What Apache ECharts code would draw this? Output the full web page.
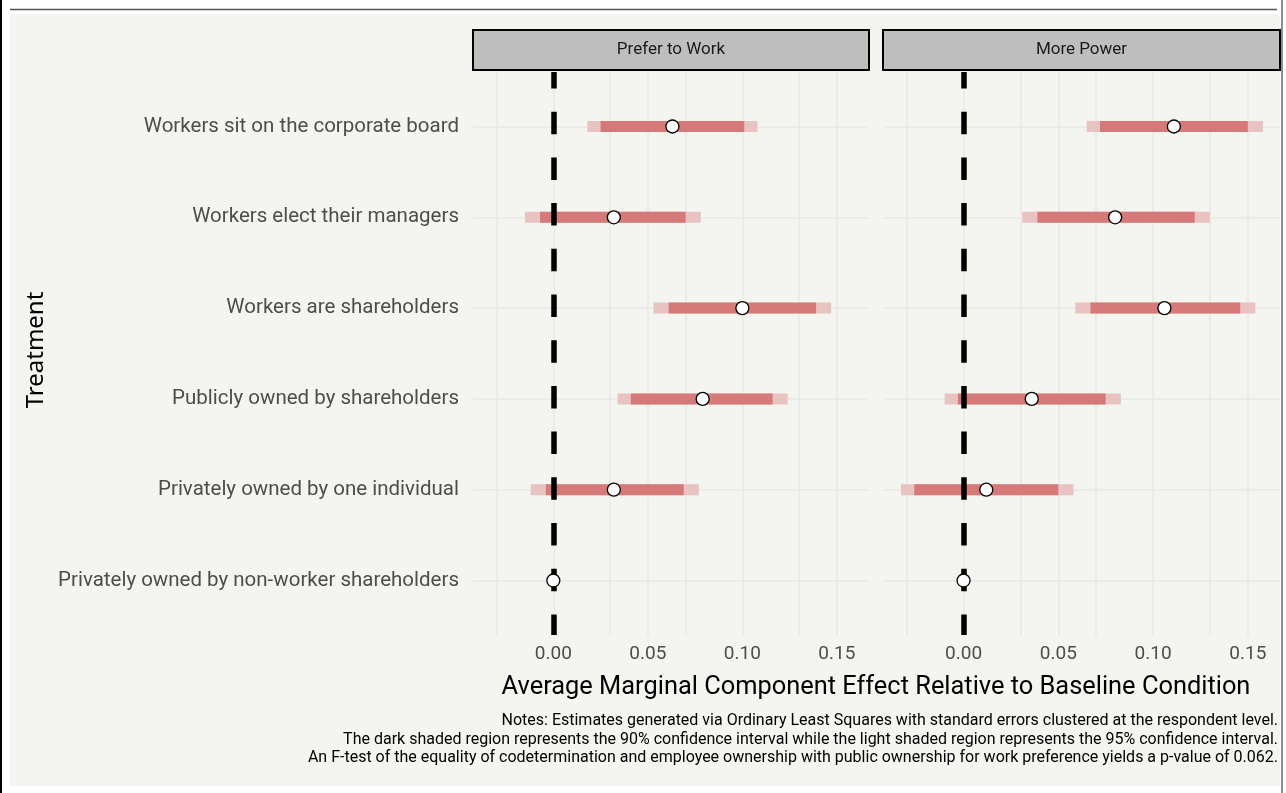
<!DOCTYPE html>
<html style="height: 100%">
<head>
<meta charset="utf-8">
<title>AMCE</title>
<style>
  html, body { margin: 0; height: 100%; background: #ffffff; }
  #container { width: 1286px; height: 793px; }
</style>
</head>
<body>
<div id="container"></div>
<script src="https://cdn.jsdelivr.net/npm/echarts@6/dist/echarts.min.js"></script>
<script>
// treatments, top to bottom
var categories = [
  'Workers sit on the corporate board',
  'Workers elect their managers',
  'Workers are shareholders',
  'Publicly owned by shareholders',
  'Privately owned by one individual',
  'Privately owned by non-worker shareholders'
];
var panels = ['Prefer to Work', 'More Power'];

// estimates per panel (same order as categories)
var workEst  = [0.063, 0.032, 0.100, 0.079, 0.032, 0];
var workLo95 = [0.018, -0.015, 0.053, 0.034, -0.012, null];
var workLo90 = [0.025, -0.007, 0.061, 0.041, -0.004, null];
var workHi90 = [0.101, 0.070, 0.139, 0.116, 0.069, null];
var workHi95 = [0.108, 0.078, 0.147, 0.124, 0.077, null];

var powerEst  = [0.111, 0.080, 0.106, 0.036, 0.012, 0];
var powerLo95 = [0.065, 0.031, 0.059, -0.010, -0.033, null];
var powerLo90 = [0.072, 0.039, 0.067, -0.003, -0.026, null];
var powerHi90 = [0.150, 0.122, 0.146, 0.075, 0.050, null];
var powerHi95 = [0.158, 0.130, 0.154, 0.083, 0.058, null];

var xTicks = [0, 0.05, 0.10, 0.15];
var xGrid = [-0.025, 0, 0.025, 0.05, 0.075, 0.10, 0.125, 0.15];

var notes = [
  'Notes: Estimates generated via Ordinary Least Squares with standard errors clustered at the respondent level.',
  'The dark shaded region represents the 90% confidence interval while the light shaded region represents the 95% confidence interval.',
  'An F-test of the equality of codetermination and employee ownership with public ownership for work preference yields a p-value of 0.062.'
];

var condensed = '"Roboto", sans-serif';
var chart = echarts.init(document.getElementById('container'));

var gridDefs = [{ left: 473, width: 396 }, { left: 883, width: 397 }];

function intervalData(lo, hi) {
  var out = [];
  for (var i = 0; i < lo.length; i++) {
    if (lo[i] != null) out.push([lo[i], hi[i], i + 1]);
  }
  return out;
}

function barSeries(idx, lo, hi, color, z) {
  return {
    type: 'custom',
    xAxisIndex: idx, yAxisIndex: idx,
    z: z, silent: true,
    data: intervalData(lo, hi),
    renderItem: function (params, api) {
      var a = api.coord([api.value(0), api.value(2)]);
      var b = api.coord([api.value(1), api.value(2)]);
      return {
        type: 'rect',
        shape: { x: a[0], y: a[1] - 5.5, width: b[0] - a[0], height: 11 },
        style: { fill: color }
      };
    }
  };
}

var series = [];
var xAxes = [];
var yAxes = [];
var grids = [];
var sets = [
  [workEst, workLo95, workLo90, workHi90, workHi95],
  [powerEst, powerLo95, powerLo90, powerHi90, powerHi95]
];

for (var p = 0; p < 2; p++) {
  grids.push({ left: gridDefs[p].left, width: gridDefs[p].width, top: 72, height: 563 });
  xAxes.push({
    type: 'value', gridIndex: p, min: -0.0425, max: 0.167,
    axisLine: { show: false }, axisTick: { show: false }, splitLine: { show: false },
    axisLabel: {
      customValues: xTicks, margin: 10,
      formatter: function (v) { return v.toFixed(2); },
      fontFamily: condensed, fontSize: 19, color: '#4d4d4d'
    }
  });
  yAxes.push({
    type: 'value', gridIndex: p, min: 0.4, max: 6.6, inverse: true,
    axisLine: { show: false }, axisTick: { show: false }, splitLine: { show: false },
    axisLabel: {
      show: p === 0, customValues: [1, 2, 3, 4, 5, 6], margin: 14,
      formatter: function (v) { return categories[Math.round(v) - 1] || ''; },
      fontFamily: condensed, fontSize: 20.5, color: '#4d4d4d'
    }
  });

  var s = sets[p];
  // grid lines
  series.push({
    type: 'scatter', xAxisIndex: p, yAxisIndex: p, data: [], z: 1, silent: true,
    markLine: {
      z: 1, silent: true, symbol: 'none', label: { show: false },
      lineStyle: { color: '#e9e9e7', width: 1.6, type: 'solid' },
      data: xGrid.map(function (v) { return { xAxis: v }; })
        .concat([1, 2, 3, 4, 5, 6].map(function (v) { return { yAxis: v }; }))
    }
  });
  series.push(barSeries(p, s[1], s[4], '#e9c3c2', 2));
  series.push(barSeries(p, s[2], s[3], '#d57a78', 3));
  // zero reference
  series.push({
    type: 'scatter', xAxisIndex: p, yAxisIndex: p, data: [], z: 4, silent: true,
    markLine: {
      z: 4, silent: true, symbol: 'none', label: { show: false },
      lineStyle: { color: '#000000', width: 5.5, type: [22.5, 23.2], dashOffset: 6 },
      data: [{ xAxis: 0 }]
    }
  });
  series.push({
    type: 'scatter', xAxisIndex: p, yAxisIndex: p, z: 6, silent: true,
    symbol: 'circle', symbolSize: 13,
    itemStyle: { color: '#ffffff', borderColor: '#000000', borderWidth: 1.3, opacity: 1 },
    data: s[0].map(function (v, i) { return [v, i + 1]; })
  });
}

var graphics = [
  { type: 'rect', z: -10, shape: { x: 10, y: 14, width: 1270, height: 772 }, style: { fill: '#f4f4f0' } },
  { type: 'line', shape: { x1: 1, y1: 0, x2: 1, y2: 793 }, style: { stroke: '#000', lineWidth: 2 } },
  { type: 'line', shape: { x1: 1282, y1: 0, x2: 1282, y2: 793 }, style: { stroke: '#444', lineWidth: 1.2 } },
  { type: 'line', shape: { x1: 10, y1: 9.5, x2: 1277, y2: 9.5 }, style: { stroke: '#555', lineWidth: 1.5 } },
  {
    type: 'text', x: 36, y: 350, rotation: Math.PI / 2,
    style: { text: 'Treatment', fontFamily: '"Noto Sans", sans-serif', fontSize: 24, fill: '#000',
      align: 'center', verticalAlign: 'middle' }
  },
  {
    type: 'text', x: 876, y: 688,
    style: { text: 'Average Marginal Component Effect Relative to Baseline Condition',
      fontFamily: condensed, fontSize: 25.4, fill: '#000', align: 'center', verticalAlign: 'middle' }
  }
];
for (var k = 0; k < 2; k++) {
  graphics.push({
    type: 'rect', z: 5,
    shape: { x: gridDefs[k].left, y: 30, width: gridDefs[k].width, height: 40 },
    style: { fill: '#bebebe', stroke: '#000', lineWidth: 2 }
  });
  graphics.push({
    type: 'text', z: 6, x: gridDefs[k].left + gridDefs[k].width / 2, y: 50,
    style: { text: panels[k], fontFamily: condensed, fontSize: 17, fill: '#1a1a1a',
      align: 'center', verticalAlign: 'middle' }
  });
}
notes.forEach(function (t, i) {
  graphics.push({
    type: 'text', x: 1278, y: 721 + i * 18.5,
    style: { text: t, fontFamily: condensed, fontSize: 16, fill: '#000',
      align: 'right', verticalAlign: 'middle' }
  });
});

chart.setOption({
  animation: false,
  backgroundColor: '#ffffff',
  grid: grids,
  xAxis: xAxes,
  yAxis: yAxes,
  series: series,
  graphic: graphics
});
</script>
</body>
</html>
